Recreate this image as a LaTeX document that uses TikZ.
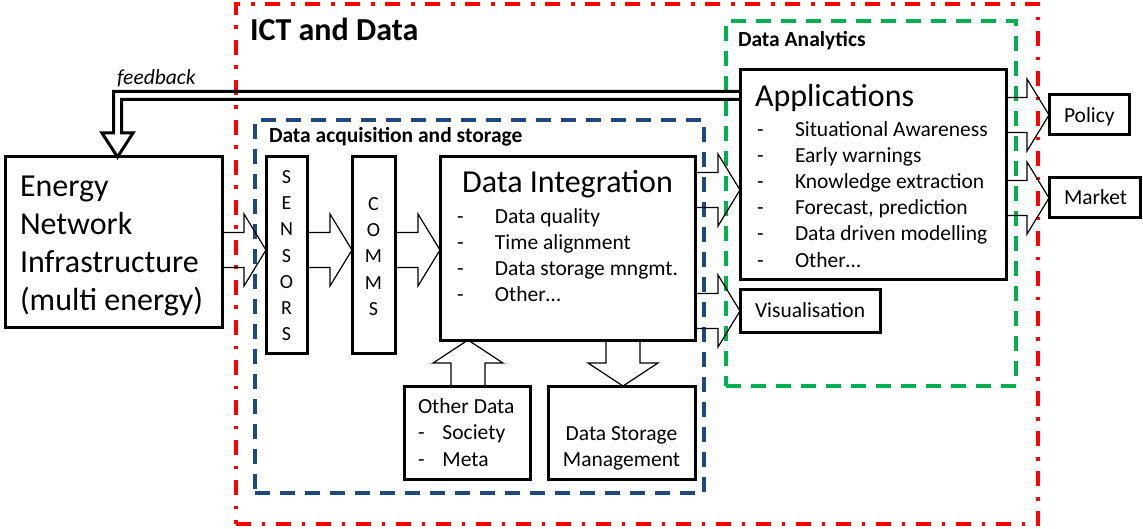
\documentclass[tikz,border=0pt]{standalone}
\usepackage{fontspec}
\setmainfont{Carlito}
\usetikzlibrary{calc}

\definecolor{ictred}{RGB}{255,0,0}
\definecolor{acqblue}{RGB}{31,73,125}
\definecolor{anagreen}{RGB}{0,176,80}

\tikzset{
  box/.style={draw, line width=3pt, fill=white, inner sep=0pt, outer sep=0pt, anchor=north west},
  zone/.style={draw, line width=3.3pt, inner sep=0pt, outer sep=0pt, anchor=north west},
  blk/.style={draw, line width=1.2pt, line join=miter},
  fb/.style={draw, line width=3pt, line join=miter},
  txt/.style={inner sep=0pt, outer sep=0pt},
  bigfont/.style={font=\fontsize{32}{37.7}\selectfont},
  normfont/.style={font=\fontsize{21.5}{26.2}\selectfont},
  letterfont/.style={font=\fontsize{20}{26.2}\selectfont},
}

% hollow block arrow pointing right: #1 tail anchor, #2 tip anchor, #3 row
\newcommand\blockright[3]{%
  \draw[blk] let \p1=(#1), \p2=(#2), \p3=(#3) in
    (\x1,\y3+17.5pt) -- (\x2-22pt,\y3+17.5pt) -- (\x2-22pt,\y3+36pt) -- (\x2,\y3)
    -- (\x2-22pt,\y3-36pt) -- (\x2-22pt,\y3-17.5pt) -- (\x1,\y3-17.5pt);}
% hollow block arrow pointing up: #1 tail anchor, #2 tip anchor, #3 column
\newcommand\blockup[3]{%
  \draw[blk] let \p1=(#1), \p2=(#2), \p3=(#3) in
    (\x3-17pt,\y1) -- (\x3-17pt,\y2-23pt) -- (\x3-35pt,\y2-23pt) -- (\x3,\y2)
    -- (\x3+35pt,\y2-23pt) -- (\x3+17pt,\y2-23pt) -- (\x3+17pt,\y1);}
% hollow block arrow pointing down
\newcommand\blockdown[3]{%
  \draw[blk] let \p1=(#1), \p2=(#2), \p3=(#3) in
    (\x3-17pt,\y1) -- (\x3-17pt,\y2+23pt) -- (\x3-35pt,\y2+23pt) -- (\x3,\y2)
    -- (\x3+35pt,\y2+23pt) -- (\x3+17pt,\y2+23pt) -- (\x3+17pt,\y1);}

\begin{document}
\begin{tikzpicture}[x=1pt,y=-1pt]
\useasboundingbox (0,0) rectangle (1143,529);

% ---- zones ----
\node[zone, ictred, dash pattern=on 15pt off 10.5pt on 3.5pt off 11pt,
      minimum width=802pt, minimum height=520pt] (ict) at (236,4) {};
\node[zone, acqblue, dash pattern=on 15pt off 10pt,
      minimum width=449pt, minimum height=373pt] (acq) at (255,120) {};
\node[zone, anagreen, dash pattern=on 15pt off 10pt,
      minimum width=290pt, minimum height=365pt] (ana) at (726,21) {};

\node[txt, anchor=base west, font=\fontsize{32}{38}\selectfont\bfseries] (ictlbl) at (250,41) {ICT and Data};
\node[txt, anchor=base west, font=\fontsize{21.5}{26}\selectfont\bfseries] (analbl) at (738,47) {Data Analytics};
\node[txt, anchor=base west, font=\fontsize{21.5}{26}\selectfont\bfseries] (acqlbl) at (269,143) {Data acquisition and storage};

% ---- boxes ----
\node[box, minimum width=217pt, minimum height=170pt] (energy) at (5,157) {};
\node[box, minimum width=41pt,  minimum height=196pt] (sensors) at (266,157) {};
\node[box, minimum width=43pt,  minimum height=196pt] (comms) at (352,157) {};
\node[box, minimum width=255pt, minimum height=183pt] (di) at (440,157) {};
\node[box, minimum width=266pt, minimum height=210pt] (apps) at (740,70) {};
\node[box, minimum width=140pt, minimum height=42pt]  (vis) at (740,290) {};
\node[box, minimum width=80pt,  minimum height=40pt]  (policy) at (1049,95) {};
\node[box, minimum width=91pt,  minimum height=40pt]  (market) at (1049,178) {};
\node[box, minimum width=126pt, minimum height=93pt]  (other) at (404,386) {};
\node[box, minimum width=147pt, minimum height=93pt]  (storage) at (548,386) {};

% ---- box texts ----
\node[txt, bigfont, anchor=north west] (energytxt) at (20,170.6)
  {\begin{tabular}{@{}l@{}}Energy\\Network\\Infrastructure\\(multi energy)\end{tabular}};
\node[txt, letterfont, anchor=north] (sensorstxt) at (286.5,165.2)
  {\begin{tabular}{@{}c@{}}S\\E\\N\\S\\O\\R\\S\end{tabular}};
\node[txt, letterfont, anchor=north] (commstxt) at (373.5,192.2)
  {\begin{tabular}{@{}c@{}}C\\O\\M\\M\\S\end{tabular}};

\node[txt, bigfont, anchor=base] (dititle) at (567.5,193) {Data Integration};
\node[txt, normfont, anchor=north west] (dilist) at (457,204.7)
  {\begin{tabular}{@{}p{38pt}@{}l@{}}
   - & Data quality\\
   - & Time alignment\\
   - & Data storage mngmt.\\
   - & Other…
   \end{tabular}};

\node[txt, bigfont, anchor=base west] (appstitle) at (755,107) {Applications};
\node[txt, normfont, anchor=north west] (appslist) at (757,117.7)
  {\begin{tabular}{@{}p{38pt}@{}l@{}}
   - & Situational Awareness\\
   - & Early warnings\\
   - & Knowledge extraction\\
   - & Forecast, prediction\\
   - & Data driven modelling\\
   - & Other…
   \end{tabular}};

\node[txt, normfont, anchor=base west] (vistxt) at (755,318) {Visualisation};
\node[txt, normfont, anchor=base west] (policytxt) at (1064,123) {Policy};
\node[txt, normfont, anchor=base west] (markettxt) at (1064,205) {Market};

\node[txt, font=\fontsize{21.5}{26.5}\selectfont, anchor=north west] (othertxt) at (418,394.5)
  {\begin{tabular}{@{}p{24.5pt}@{}l@{}}
   \multicolumn{2}{@{}l@{}}{Other Data}\\
   - & Society\\
   - & Meta
   \end{tabular}};
\node[txt, font=\fontsize{21.5}{26.5}\selectfont, anchor=north] (storagetxt) at (621.5,421.5)
  {\begin{tabular}{@{}c@{}}Data Storage\\Management\end{tabular}};

% ---- rows and columns of the block arrows ----
\coordinate (r250) at (0,250);
\coordinate (r190) at (0,190);
\coordinate (r311) at (0,311);
\coordinate (r115) at (0,115);
\coordinate (r198) at (0,198);
\coordinate (c468) at (468,0);
\coordinate (c623) at (623,0);

\blockright{energy.east}{sensors.west}{r250}
\blockright{sensors.east}{comms.west}{r250}
\blockright{comms.east}{di.west}{r250}
\blockright{di.east}{apps.west}{r190}
\blockright{di.east}{vis.west}{r311}
\blockright{apps.east}{policy.west}{r115}
\blockright{apps.east}{market.west}{r198}
\blockup{other.north}{di.south}{c468}
\blockdown{di.south}{storage.north}{c623}

% ---- feedback double-line arrow ----
\coordinate (fbrow) at (0,95.5);
\coordinate (fbcol) at (117.5,0);
\draw[fb] let \p1=(apps.west), \p2=(energy.north), \p3=(fbcol), \p4=(fbrow) in
  (\x1,\y4+4pt) -- (\x3-4pt,\y4+4pt) -- (\x3-4pt,\y2+24pt) -- (\x3-15.5pt,\y2+24pt)
  -- (\x3,\y2) -- (\x3+15.5pt,\y2+24pt) -- (\x3+4pt,\y2+24pt) -- (\x3+4pt,\y4-4pt)
  -- (\x1,\y4-4pt);
\node[txt, normfont, font=\fontsize{21.5}{26}\selectfont\itshape, anchor=base west] (fblbl) at (117,85) {feedback};

\end{tikzpicture}
\end{document}
